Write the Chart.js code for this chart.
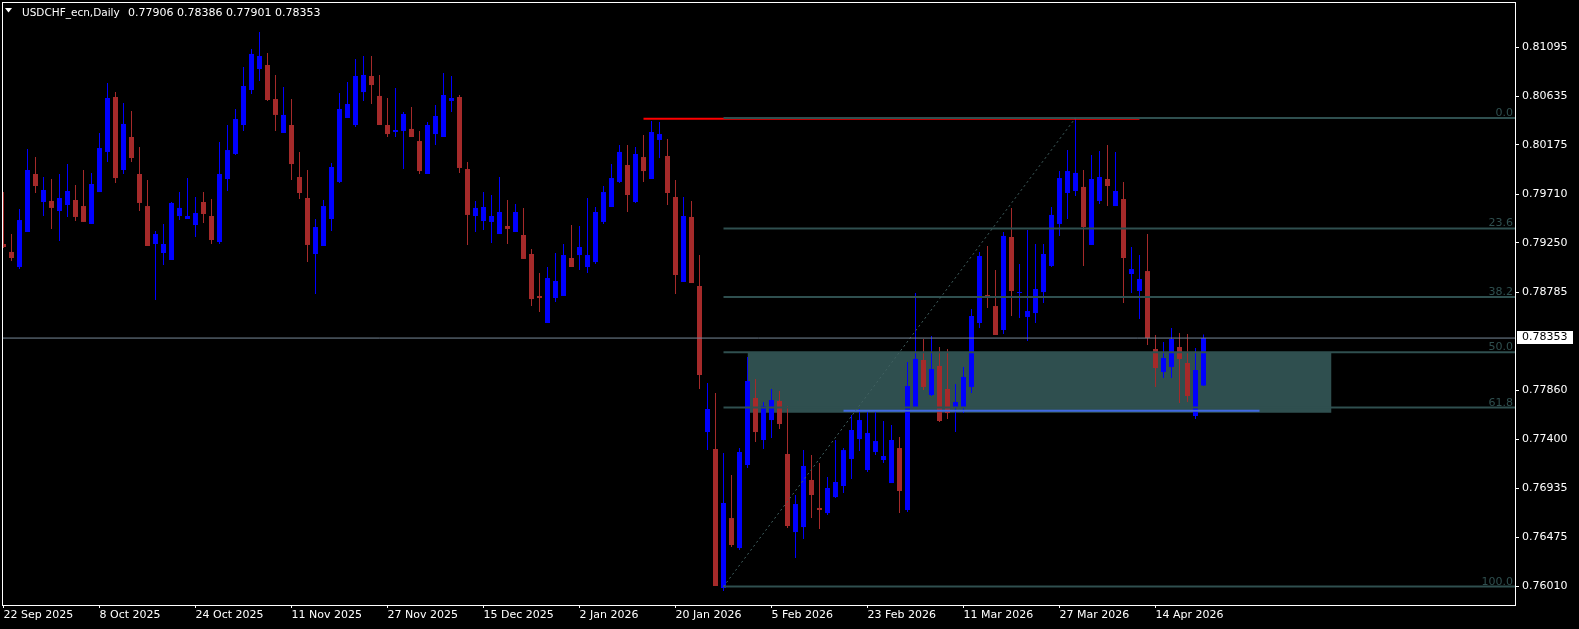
<!DOCTYPE html>
<html><head><meta charset="utf-8">
<script src="https://cdn.jsdelivr.net/npm/chart.js@4.4.1/dist/chart.umd.min.js"></script>
<style>html,body{margin:0;padding:0;background:#000;overflow:hidden}canvas{display:block}</style>
</head><body>
<canvas id="c" width="1579" height="629"></canvas>
<script>
// Daily USDCHF bars, index 0 = 22 Sep 2025 ... 150 = 22 Apr 2026
const openP = [0.79240,0.79165,0.79023,0.79353,0.79900,0.79636,0.79646,0.79551,0.79608,0.79655,
0.79598,0.79429,0.79730,0.80108,0.80626,0.79938,0.80249,0.79900,0.79598,0.79240,
0.79155,0.79089,0.79504,0.79476,0.79419,0.79636,0.79504,0.79259,0.79853,0.80089,
0.80362,0.80692,0.80890,0.80928,0.80607,0.80287,0.80362,0.79872,0.79674,0.79146,
0.79221,0.79476,0.79825,0.80428,0.80362,0.80673,0.80824,0.80636,0.80362,0.80296,
0.80306,0.80325,0.80211,0.79900,0.80277,0.80249,0.80589,0.80626,0.79947,0.79504,
0.79457,0.79448,0.79334,0.79410,0.79353,0.79325,0.79146,0.78750,0.78495,0.78731,
0.78750,0.79108,0.79136,0.79023,0.79070,0.79448,0.79589,0.79825,0.79985,0.79636,
0.80060,0.79853,0.80221,0.80070,0.79683,0.78882,0.79495,0.78844,0.77467,0.77307,
0.75996,0.76656,0.76373,0.77156,0.77788,0.77392,0.77580,0.77760,0.77260,0.76524,
0.76571,0.77015,0.76751,0.76703,0.76854,0.76958,0.77213,0.77401,0.77109,0.77279,
0.77203,0.76986,0.77316,0.76732,0.77703,0.78146,0.77816,0.78090,0.77873,0.77703,
0.77703,0.77892,0.78495,0.78759,0.78655,0.78429,0.79306,0.78778,0.78552,0.78589,
0.78787,0.79033,0.79429,0.79721,0.79740,0.79778,0.79231,0.79646,0.79853,0.79598,
0.79664,0.78957,0.78797,0.78985,0.78250,0.78033,0.78080,0.78269,0.78118,0.77618,
0.77906];
const highP = [0.79730,0.79334,0.79570,0.80136,0.80060,0.79872,0.79853,0.79900,0.79994,0.79796,
0.79938,0.79910,0.80287,0.80758,0.80673,0.80570,0.80494,0.80155,0.79844,0.79363,
0.79429,0.79636,0.79730,0.79862,0.79683,0.79730,0.79664,0.80202,0.80362,0.80513,
0.80909,0.81079,0.81239,0.81041,0.80834,0.80721,0.80607,0.80108,0.79938,0.79476,
0.79655,0.80004,0.80664,0.80768,0.80985,0.81013,0.81013,0.80834,0.80617,0.80711,
0.80485,0.80532,0.80306,0.80391,0.80551,0.80853,0.80824,0.80645,0.80013,0.79646,
0.79730,0.79702,0.79872,0.79655,0.79617,0.79580,0.79193,0.78967,0.79023,0.79155,
0.79240,0.79419,0.79410,0.79674,0.79589,0.79787,0.79994,0.80174,0.80174,0.80155,
0.80268,0.80400,0.80391,0.80230,0.79844,0.79683,0.79646,0.79136,0.77929,0.77835,
0.77269,0.77062,0.77316,0.78174,0.77967,0.77750,0.77873,0.77854,0.77712,0.76873,
0.77297,0.77250,0.77175,0.77043,0.77392,0.77316,0.77628,0.77684,0.77656,0.77656,
0.77571,0.77533,0.77420,0.78127,0.78778,0.78344,0.78373,0.78269,0.78250,0.77920,
0.78080,0.78627,0.79165,0.79221,0.78995,0.79353,0.79580,0.79051,0.79372,0.79240,
0.79240,0.79589,0.79928,0.80126,0.80419,0.79938,0.80079,0.80117,0.80174,0.80108,
0.79825,0.79212,0.79136,0.79334,0.78382,0.78316,0.78448,0.78401,0.78391,0.78259,
0.78386];
const lowP = [0.79202,0.79080,0.79004,0.79353,0.79721,0.79504,0.79382,0.79268,0.79495,0.79457,
0.79448,0.79429,0.79730,0.80013,0.79815,0.79900,0.80013,0.79551,0.79221,0.78712,
0.79042,0.79089,0.79466,0.79476,0.79306,0.79438,0.79240,0.79240,0.79740,0.80079,
0.80306,0.80655,0.80777,0.80589,0.80306,0.80287,0.79844,0.79664,0.79070,0.78769,
0.79221,0.79363,0.79815,0.80428,0.80343,0.80589,0.80560,0.80362,0.80249,0.80249,
0.79947,0.80249,0.79900,0.79900,0.80174,0.80249,0.80485,0.79910,0.79231,0.79353,
0.79372,0.79250,0.79334,0.79240,0.79353,0.79099,0.78655,0.78599,0.78495,0.78693,
0.78750,0.79023,0.78995,0.78967,0.79051,0.79429,0.79589,0.79815,0.79542,0.79627,
0.79825,0.79853,0.80051,0.79608,0.78769,0.78882,0.78872,0.77873,0.77297,0.76015,
0.75968,0.76383,0.76354,0.77128,0.77373,0.77307,0.77411,0.77496,0.76562,0.76279,
0.76458,0.76656,0.76553,0.76685,0.76845,0.76892,0.77024,0.77288,0.77090,0.77250,
0.77175,0.76986,0.76703,0.76713,0.77703,0.77863,0.77807,0.77562,0.77590,0.77467,
0.77646,0.77835,0.78448,0.78637,0.78382,0.78391,0.78561,0.78542,0.78325,0.78495,
0.78684,0.79023,0.79316,0.79476,0.79693,0.79033,0.79231,0.79617,0.79598,0.79598,
0.78684,0.78778,0.78533,0.78288,0.77892,0.77976,0.77976,0.77741,0.77750,0.77590,
0.77901];
const closeP = [0.79212,0.79108,0.79466,0.79938,0.79787,0.79749,0.79580,0.79674,0.79740,0.79495,
0.79448,0.79806,0.80145,0.80617,0.79862,0.80372,0.80051,0.79627,0.79221,0.79334,
0.79240,0.79627,0.79580,0.79504,0.79532,0.79523,0.79278,0.79900,0.80126,0.80419,
0.80730,0.81032,0.81013,0.80598,0.80457,0.80457,0.79994,0.79721,0.79231,0.79400,
0.79598,0.79966,0.80513,0.80560,0.80824,0.80834,0.80739,0.80362,0.80277,0.80315,
0.80466,0.80249,0.79928,0.80362,0.80447,0.80645,0.80617,0.79957,0.79514,0.79580,
0.79589,0.79504,0.79542,0.79382,0.79542,0.79099,0.78721,0.78731,0.78919,0.78891,
0.79136,0.79023,0.79212,0.79136,0.79542,0.79730,0.79862,0.80108,0.79702,0.80089,
0.79928,0.80296,0.80277,0.79721,0.78948,0.79504,0.78872,0.78005,0.77684,0.76015,
0.76798,0.76402,0.77279,0.77948,0.77467,0.77712,0.77769,0.77543,0.76581,0.76788,
0.77147,0.76873,0.76732,0.76939,0.76996,0.77297,0.77486,0.77580,0.77458,0.77382,
0.77241,0.77392,0.76911,0.77901,0.78156,0.77892,0.78061,0.77571,0.77646,0.77750,
0.77986,0.78561,0.79127,0.78750,0.78382,0.79316,0.78797,0.78787,0.78608,0.78816,
0.79146,0.79514,0.79862,0.79928,0.79910,0.79400,0.79853,0.79872,0.79787,0.79740,
0.79108,0.79004,0.78910,0.78354,0.78071,0.78165,0.78344,0.78156,0.77807,0.78052,
0.78353];

const xTickIndex = [0,12,24,36,48,60,72,84,96,108,120,132,144];
const xTickLabels = ["22 Sep 2025","8 Oct 2025","24 Oct 2025","11 Nov 2025","27 Nov 2025","15 Dec 2025",
  "2 Jan 2026","20 Jan 2026","5 Feb 2026","23 Feb 2026","11 Mar 2026","27 Mar 2026","14 Apr 2026"];
const yTickValues = [0.81095,0.80635,0.80175,0.79710,0.79250,0.78785,0.77860,0.77400,0.76935,0.76475,0.76010];

const fibLevels = ["0.0","23.6","38.2","50.0","61.8","100.0"];
const fibPrices = [0.80429,0.79387,0.78741,0.78220,0.77698,0.76010];
const fibStartBar = 90, fibEndBar = 134;
const redLine = {from: 80, to: 142, price: 0.80422};
const blueLine = {from: 105, to: 157, price: 0.77668};
const zone = {from: 93, to: 166, top: 0.78220, bottom: 0.77649};
const currentPrice = 0.78353;
const titleName = "USDCHF_ecn,Daily";
const titleOHLC = "0.77906 0.78386 0.77901 0.78353";

Chart.defaults.font.family = "'DejaVu Sans', sans-serif";
Chart.defaults.font.size = 11;
Chart.defaults.color = '#ffffff';

const BULL = '#0000FF', BEAR = '#A52A2A';
const idx = openP.map((_, i) => i);
const bull = idx.filter(i => closeP[i] >= openP[i]);
const bear = idx.filter(i => closeP[i] < openP[i]);
const wickSet = (ids, color) => ({type:'bar', data: ids.map(i => ({x:i, y:[lowP[i], highP[i]]})),
  backgroundColor: color, barThickness: 1, grouped: false, minBarLength: 1, inflateAmount: 0, borderWidth: 0, order: 5});
const bodySet = (ids, color) => ({type:'bar', data: ids.map(i => ({x:i, y:[openP[i], closeP[i]]})),
  backgroundColor: color, barThickness: 5, grouped: false, minBarLength: 1, inflateAmount: 0, borderWidth: 0, order: 4});
const seg = (x0, y0, x1, y1, color, w, dash) => ({type:'line', data:[{x:x0,y:y0},{x:x1,y:y1}],
  borderColor: color, borderWidth: w, borderDash: dash || [], pointRadius: 0, fill: false, tension: 0, clip: 0, order: 1});

const datasets = [
  {type:'line', data:[{x:zone.from,y:zone.top},{x:zone.to,y:zone.top}], borderColor:'rgba(0,0,0,0)', borderWidth:0,
   pointRadius:0, fill:{value: zone.bottom}, backgroundColor:'#2F4F4F', clip:0, order:10},
  wickSet(bull, BULL), wickSet(bear, BEAR), bodySet(bull, BULL), bodySet(bear, BEAR),
  seg(-1, currentPrice, 200, currentPrice, '#778899', 1),
  seg(fibStartBar, fibPrices[5], fibEndBar, fibPrices[0], '#406060', 1, [2,3]),
  ...fibPrices.map(p => seg(fibStartBar, p, 200, p, '#2F4F4F', 2)),
  seg(redLine.from, redLine.price, redLine.to, redLine.price, '#FF0000', 2),
  seg(blueLine.from, blueLine.price, blueLine.to, blueLine.price, '#4169E1', 2)
];

const zeroPad = (s) => { s.paddingTop = 0; s.paddingBottom = 0; s.paddingLeft = 0; s.paddingRight = 0; };

const decor = {
  id: 'decor',
  beforeDraw(chart) {
    const c = chart.ctx; c.save(); c.fillStyle = '#000'; c.fillRect(0, 0, chart.width, chart.height); c.restore();
  },
  afterDraw(chart) {
    const c = chart.ctx, a = chart.chartArea, ys = chart.scales.y;
    c.save();
    c.strokeStyle = '#ffffff'; c.lineWidth = 1;
    c.strokeRect(a.left + 0.5, a.top + 0.5, a.right - a.left, a.bottom - a.top);
    c.font = "11px 'DejaVu Sans'"; c.fillStyle = '#2F4F4F'; c.textAlign = 'right'; c.textBaseline = 'alphabetic';
    fibLevels.forEach((t, i) => c.fillText(t, a.right - 2, Math.round(ys.getPixelForValue(fibPrices[i])) - 2));
    // title
    c.fillStyle = '#ffffff';
    c.beginPath(); c.moveTo(5, 8); c.lineTo(12, 8); c.lineTo(8.5, 12.5); c.closePath(); c.fill();
    c.textAlign = 'left';
    c.font = "10.5px 'DejaVu Sans'"; c.fillText(titleName, 22, 16);
    c.font = "11px 'DejaVu Sans'"; c.fillText(titleOHLC, 128, 16);
    // current price box
    const py = ys.getPixelForValue(currentPrice);
    c.fillStyle = '#ffffff'; c.fillRect(a.right + 2, Math.round(py) - 7, 56, 13);
    c.fillStyle = '#000000'; c.textBaseline = 'middle'; c.fillText(currentPrice.toFixed(5), a.right + 7, Math.round(py) - 0.5);
    c.restore();
  }
};

new Chart(document.getElementById('c'), {
  type: 'bar',
  data: { datasets },
  options: {
    responsive: false, animation: false, events: [],
    layout: { padding: { left: 2, top: 2, right: 0, bottom: 0 }, autoPadding: false },
    plugins: { legend: { display: false }, tooltip: { enabled: false } },
    scales: {
      x: {
        type: 'linear', min: -0.1875, max: 188.9375, offset: false, bounds: 'data',
        grid: { display: true, offset: false, drawOnChartArea: false, drawTicks: true, tickLength: 3, color: '#ffffff' },
        border: { display: false },
        ticks: { autoSkip: false, maxRotation: 0, minRotation: 0, align: 'start', padding: 1, color: '#ffffff',
          font: { size: 11 },
          callback: (v) => { const j = xTickIndex.indexOf(v); return j >= 0 ? xTickLabels[j] : ''; } },
        afterBuildTicks: (s) => { s.ticks = xTickIndex.map(v => ({ value: v })); },
        afterFit: (s) => { s.height = 24; zeroPad(s); }
      },
      y: {
        type: 'linear', position: 'right', min: 0.75836, max: 0.81522, bounds: 'data', beginAtZero: false,
        grid: { drawOnChartArea: false, drawTicks: true, tickLength: 4, color: '#ffffff' },
        border: { display: false },
        ticks: { color: '#ffffff', padding: 3, font: { size: 11 }, callback: (v) => Number(v).toFixed(5) },
        afterBuildTicks: (s) => { s.ticks = yTickValues.map(v => ({ value: v })); },
        afterFit: (s) => { s.width = 64; zeroPad(s); }
      }
    }
  },
  plugins: [decor]
});
</script>
</body></html>
